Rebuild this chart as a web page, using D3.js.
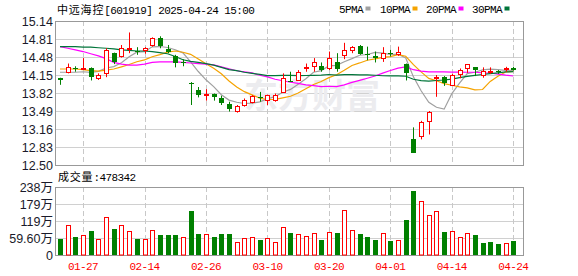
<!DOCTYPE html>
<html>
<head>
<meta charset="utf-8">
<script src="https://cdn.jsdelivr.net/npm/d3@7"></script>
<style>
body { margin: 0; background: #fff; }
svg { display: block; }
</style>
</head>
<body>
<svg id="chart" width="578" height="276"></svg>
<script>
// trading days shown
var dates = ["01-22","01-23","01-24","01-27","02-05","02-06","02-07","02-10","02-11","02-12",
             "02-13","02-14","02-17","02-18","02-19","02-20","02-21","02-24","02-25","02-26",
             "02-27","02-28","03-03","03-04","03-05","03-06","03-07","03-10","03-11","03-12",
             "03-13","03-14","03-17","03-18","03-19","03-20","03-21","03-24","03-25","03-26",
             "03-27","03-28","03-31","04-01","04-02","04-03","04-07","04-08","04-09","04-10",
             "04-11","04-14","04-15","04-16","04-17","04-18","04-21","04-22","04-23","04-24"];

var opens  = [14.09,14.20,14.27,14.27,14.27,14.10,14.18,14.55,14.49,14.64,
              14.59,14.61,14.70,14.82,14.62,14.49,14.39,14.01,13.88,13.79,
              13.80,13.72,13.61,13.48,13.60,13.66,13.75,13.68,13.69,13.84,
              14.04,14.06,14.28,14.30,14.31,14.27,14.39,14.52,14.62,14.69,
              14.54,14.50,14.46,14.56,14.54,14.35,12.98,13.02,13.31,14.11,
              14.12,13.97,14.18,14.27,14.29,14.15,14.21,14.22,14.26,14.28];
var highs  = [14.10,14.36,14.31,14.46,14.29,14.18,14.64,14.56,14.70,14.93,
              14.66,14.66,14.84,14.86,14.70,14.52,14.44,14.02,13.93,13.89,
              13.81,13.77,13.66,13.60,13.72,13.78,13.84,13.79,13.81,14.18,
              14.21,14.24,14.36,14.46,14.38,14.58,14.55,14.74,14.68,14.70,
              14.67,14.58,14.66,14.61,14.67,14.36,13.19,13.31,13.49,14.15,
              14.13,14.17,14.27,14.35,14.29,14.29,14.29,14.24,14.30,14.30];
var lows   = [13.97,14.18,14.21,14.26,14.05,14.06,14.11,14.35,14.47,14.55,
              14.52,14.54,14.67,14.64,14.55,14.29,14.31,13.60,13.74,13.68,
              13.68,13.60,13.48,13.46,13.57,13.63,13.66,13.60,13.66,13.82,
              14.03,14.05,14.21,14.21,14.21,14.24,14.21,14.44,14.55,14.52,
              14.42,14.38,14.39,14.49,14.50,14.05,12.73,12.97,13.06,13.75,
              13.95,13.95,14.09,14.19,14.13,14.10,14.17,14.17,14.21,14.23];
var closes = [14.06,14.30,14.25,14.28,14.11,14.15,14.60,14.38,14.64,14.65,
              14.57,14.65,14.82,14.67,14.56,14.36,14.37,14.00,13.78,13.80,
              13.74,13.62,13.51,13.58,13.69,13.77,13.74,13.78,13.79,14.09,
              14.03,14.21,14.29,14.38,14.24,14.46,14.27,14.61,14.67,14.55,
              14.53,14.46,14.55,14.54,14.58,14.18,12.73,13.28,13.48,14.12,
              14.01,14.15,14.25,14.35,14.24,14.23,14.22,14.21,14.27,14.25];
// volume in 万
var volumes = [57,104,63,69,84,56,132,91,104,84,
               57,56,88,70,70,70,63,155,74,74,
               64,74,74,46,60,63,53,60,46,98,
               77,73,67,77,54,81,77,158,88,74,
               63,54,77,49,53,123,224,189,140,154,
               81,84,63,77,70,42,46,39,42,47.8342];

var ma5Lead  = [14.20,14.20,14.20,14.21];
var ma10Lead = [14.26,14.26,14.26,14.25,14.23,14.22,14.24,14.26,14.30];
var ma20Lead = [14.67,14.64,14.61,14.58,14.54,14.50,14.45,14.38,14.35,14.33,
                14.33,14.35,14.38,14.39,14.39,14.39,14.38,14.37,14.36];
var ma30Lead = [14.67,14.67,14.67,14.66,14.66,14.65,14.64,14.63,14.61,14.60,
                14.59,14.59,14.58,14.56,14.54,14.49,14.43,14.40,14.38,14.36,
                14.33,14.29,14.25,14.23,14.20,14.18,14.16,14.14,14.14];

var priceTicks = [15.14,14.81,14.48,14.15,13.82,13.49,13.16,12.83,12.50];
var volTicks = [0,59.6,119.2,178.8,238.4];
var volTickLabels = ["0","59.60万","119万","179万","238万"];
var dateTicks = ["01-27","02-14","02-26","03-10","03-20","04-01","04-14","04-24"];

var RED = "#ff0000", GREEN = "#008000";
var maColors = ["#a0a0a0","#f5a300","#ff00ff","#00753a"];

var left = 55, right = 523,
    priceTop = 21, priceBottom = 165,
    volTop = 187, volBottom = 255;

var svg = d3.select("#chart");

var x = d3.scalePoint().domain(dates).range([60, 513.3]);
var y = d3.scaleLinear().domain([12.50, 15.14]).range([priceBottom, priceTop]);
var yv = d3.scaleLinear().domain([0, 238.4]).range([volBottom, volTop]);

function movingAvg(n, lead) {
  return closes.map(function(c, i) {
    return i < n - 1 ? lead[i] : d3.mean(closes.slice(i - n + 1, i + 1));
  });
}
var mas = [movingAvg(5, ma5Lead), movingAvg(10, ma10Lead), movingAvg(20, ma20Lead), movingAvg(30, ma30Lead)];

function px(i) { return Math.round(x(dates[i])); }

// mixed CJK / latin text, latin set at 6px per char like the source
function mixedText(g, tx, ty, parts, color) {
  var t = g.append("text").attr("x", tx).attr("y", ty).attr("fill", color || "#000");
  parts.forEach(function(p) {
    var s = t.append("tspan").text(p.t);
    if (p.cjk) {
      s.style("font-family", "'Noto Sans CJK SC'").style("font-size", "11px").style("letter-spacing", "0.8px");
    } else {
      s.style("font-family", "'Liberation Mono'").style("font-size", "11px").style("letter-spacing", "-0.6px");
    }
  });
  return t;
}

// ---- grid ----
var grid = svg.append("g");
grid.selectAll(".hp").data(priceTicks).enter().append("line")
  .attr("x1", left).attr("x2", right)
  .attr("y1", function(d) { return Math.round(y(d)) + 0.5; })
  .attr("y2", function(d) { return Math.round(y(d)) + 0.5; })
  .attr("stroke", "#d0d0d0");
grid.selectAll(".hv").data(volTicks).enter().append("line")
  .attr("x1", left).attr("x2", right)
  .attr("y1", function(d) { return Math.round(yv(d)) + 0.5; })
  .attr("y2", function(d) { return Math.round(yv(d)) + 0.5; })
  .attr("stroke", "#d0d0d0");
[[priceTop, priceBottom], [volTop, volBottom]].forEach(function(r) {
  grid.selectAll(null).data(dateTicks).enter().append("line")
    .attr("x1", function(d) { return Math.round(x(d)) + 0.5; })
    .attr("x2", function(d) { return Math.round(x(d)) + 0.5; })
    .attr("y1", r[0]).attr("y2", r[1])
    .attr("stroke", "#c8c8c8").attr("stroke-dasharray", "5,3");
});

// watermark
svg.append("text").attr("x", 244).attr("y", 108)
  .text("东方财富")
  .style("font-family", "'Noto Sans CJK SC'").style("font-size", "34px").style("font-weight", "bold")
  .attr("fill", "#ececef");

// ---- frames ----
svg.append("rect").attr("x", left + 0.5).attr("y", priceTop + 0.5)
  .attr("width", right - left).attr("height", priceBottom - priceTop)
  .attr("fill", "none").attr("stroke", "#999");
svg.append("rect").attr("x", left + 0.5).attr("y", volTop + 0.5)
  .attr("width", right - left).attr("height", volBottom - volTop)
  .attr("fill", "none").attr("stroke", "#999");

// ---- MA lines ----
var line = d3.line()
  .x(function(d, i) { return x(dates[i]); })
  .y(function(d) { return y(d); });
svg.selectAll(".ma").data(mas).enter().append("path")
  .attr("d", line)
  .attr("fill", "none")
  .attr("stroke", function(d, i) { return maColors[i]; })
  .attr("stroke-width", 1.2);

// ---- candles ----
var candles = svg.append("g").selectAll("g").data(dates).enter().append("g");
function isUp(i) { return closes[i] > opens[i]; }
candles.append("line")
  .attr("x1", function(d, i) { return px(i) + 0.5; })
  .attr("x2", function(d, i) { return px(i) + 0.5; })
  .attr("y1", function(d, i) { return y(highs[i]); })
  .attr("y2", function(d, i) { return y(lows[i]); })
  .attr("stroke", function(d, i) { return isUp(i) ? RED : GREEN; });
candles.append("rect")
  .attr("x", function(d, i) { return isUp(i) ? px(i) - 1.5 : px(i) - 2; })
  .attr("y", function(d, i) { return Math.round(y(Math.max(opens[i], closes[i]))) + (isUp(i) ? 0.5 : 0); })
  .attr("width", function(d, i) { return isUp(i) ? 4 : 5; })
  .attr("height", function(d, i) {
    return Math.max(1, Math.round(Math.abs(y(opens[i]) - y(closes[i]))));
  })
  .attr("fill", function(d, i) { return isUp(i) ? "#fff" : GREEN; })
  .attr("stroke", function(d, i) { return isUp(i) ? RED : "none"; });

// ---- volume bars ----
function volUp(i) { return i === 0 ? closes[0] > opens[0] : closes[i] > closes[i - 1]; }
svg.append("g").selectAll("rect").data(volumes).enter().append("rect")
  .attr("x", function(d, i) { return volUp(i) ? px(i) - 1.5 : px(i) - 2; })
  .attr("y", function(d, i) { return Math.round(yv(d)) + (volUp(i) ? 0.5 : 0); })
  .attr("width", function(d, i) { return volUp(i) ? 4 : 5; })
  .attr("height", function(d, i) { return volBottom - Math.round(yv(d)) - (volUp(i) ? 0.5 : 0); })
  .attr("fill", function(d, i) { return volUp(i) ? "#fff" : GREEN; })
  .attr("stroke", function(d, i) { return volUp(i) ? RED : "none"; });

// ---- axis labels ----
svg.selectAll(".pl").data(priceTicks).enter().append("text")
  .attr("x", 53).attr("y", function(d) { return y(d); }).attr("dy", "0.36em")
  .attr("text-anchor", "end")
  .style("font-family", "'Liberation Sans', Arial, sans-serif").style("font-size", "12.5px")
  .attr("fill", "#1a1a2a")
  .text(function(d) { return d.toFixed(2); });

svg.selectAll(".vl").data(volTicks).enter().append("text")
  .attr("x", 53).attr("y", function(d) { return yv(d); }).attr("dy", "0.36em")
  .attr("text-anchor", "end")
  .style("font-family", "'Liberation Sans', 'Noto Sans CJK SC', sans-serif").style("font-size", "12.5px")
  .attr("fill", "#1a1a2a")
  .text(function(d, i) { return volTickLabels[i]; });

svg.selectAll(".dl").data(dateTicks).enter().append("text")
  .attr("x", function(d) { return x(d); }).attr("y", 270)
  .attr("text-anchor", "middle")
  .style("font-family", "'Liberation Mono'").style("font-size", "11px").style("letter-spacing", "-0.6px")
  .attr("fill", RED)
  .text(function(d) { return d; });

// ---- header + legend ----
mixedText(svg, 57, 13.5, [{t: "中远海控", cjk: true}, {t: "[601919] 2025-04-24 15:00"}]);
mixedText(svg, 58, 181, [{t: "成交量", cjk: true}, {t: ":" + Math.round(volumes[59] * 10000)}]);

var legendNames = ["5PMA","10PMA","20PMA","30PMA"];
var legendX = [339, 380, 426, 472];
legendNames.forEach(function(n, i) {
  mixedText(svg, legendX[i], 13, [{t: n}]);
  svg.append("rect").attr("x", legendX[i] + n.length * 6 + 2.5).attr("y", 6.5)
    .attr("width", 5).attr("height", 4).attr("fill", maColors[i]);
});
</script>
</body>
</html>
